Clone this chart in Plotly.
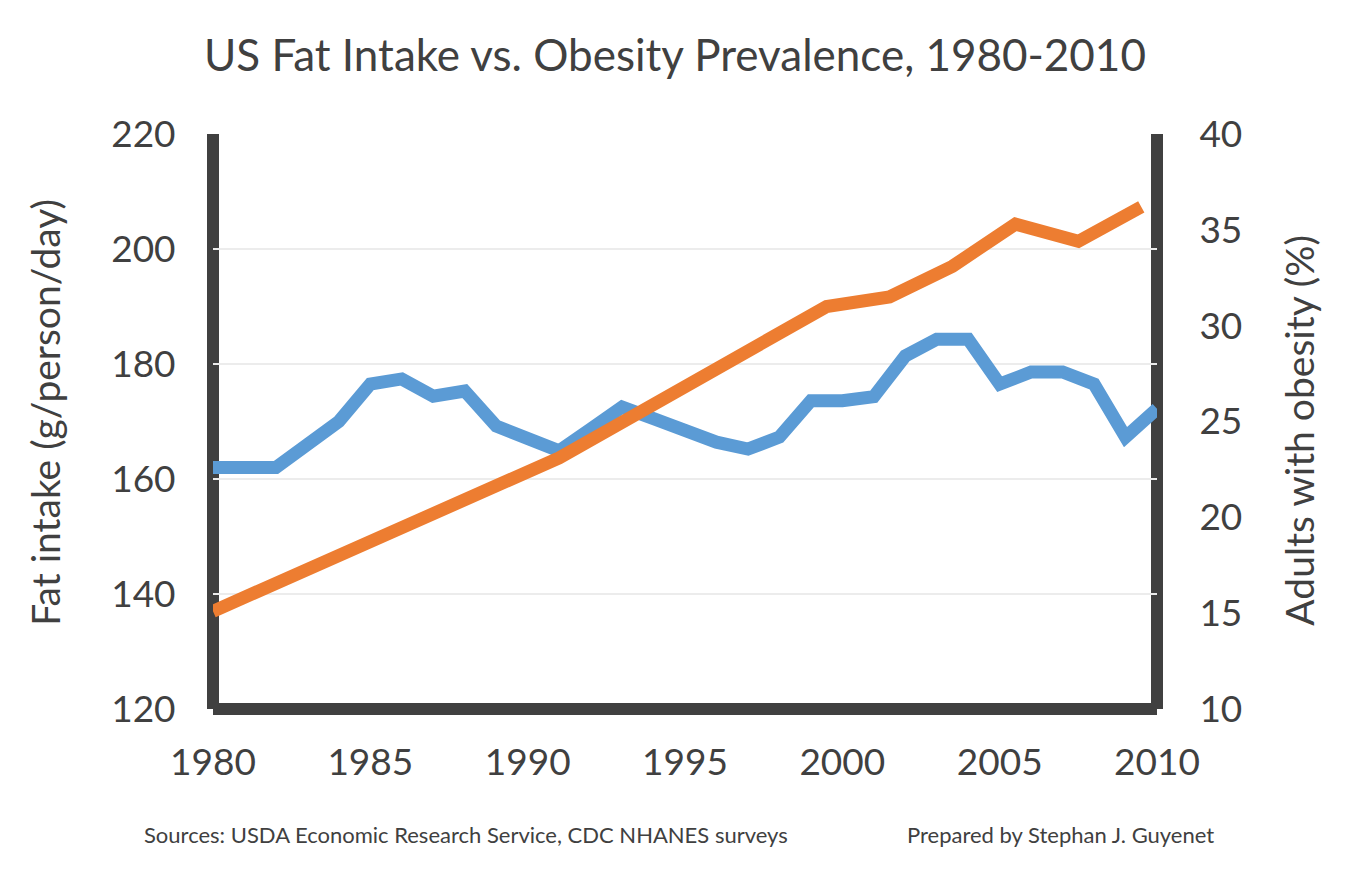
import plotly.graph_objects as go

# fat intake, g/person/day, one value per year
fat_years = list(range(1980, 2011))
fat_intake = [162, 162, 162, 166, 170, 176.5, 177.4, 174.4, 175.3, 169.2,
              167.3, 164.9, 168.7, 172.5, 170.5, 168.5, 166.4, 165.2, 167.3, 173.6,
              173.6, 174.3, 181.4, 184.3, 184.3, 176.5, 178.6, 178.6, 176.5, 167.3,
              172.2]

# adult obesity, %, survey midpoints
obesity_years = [1980, 1991, 1999.5, 2001.5, 2003.5, 2005.5, 2007.5, 2009.5]
obesity_pct = [15.1, 23.1, 31.0, 31.5, 33.1, 35.3, 34.4, 36.2]

x_ticks = [1980, 1985, 1990, 1995, 2000, 2005, 2010]
left_ticks = [120, 140, 160, 180, 200, 220]
right_ticks = [10, 15, 20, 25, 30, 35, 40]

FONT = "Lato"
TEXT = "#404040"
AXIS = "#404040"

fig = go.Figure()

fig.add_trace(go.Scatter(
    x=fat_years, y=fat_intake, mode="lines",
    line=dict(color="#5B9BD5", width=13),
    name="Fat intake", yaxis="y",
))
fig.add_trace(go.Scatter(
    x=obesity_years, y=obesity_pct, mode="lines",
    line=dict(color="#ED7D31", width=13),
    name="Obesity", yaxis="y2",
))

# page has an 8px body margin, margins below account for it
fig.update_layout(
    width=1350, height=875,
    margin=dict(l=205, r=201, t=126, b=174),
    paper_bgcolor="white", plot_bgcolor="white",
    showlegend=False,
    font=dict(family=FONT, color=TEXT),
    xaxis=dict(
        range=[1980, 2010], tickvals=x_ticks,
        showgrid=False, zeroline=False, showline=False,
        ticks="outside", ticklen=21, tickcolor="rgba(0,0,0,0)",
        tickfont=dict(size=37, color=TEXT),
    ),
    yaxis=dict(
        range=[120, 220], tickvals=left_ticks,
        showgrid=True, gridcolor="#ececec", gridwidth=2,
        zeroline=False, showline=False,
        ticks="outside", ticklen=29, tickcolor="rgba(0,0,0,0)",
        tickfont=dict(size=37, color=TEXT),
    ),
    yaxis2=dict(
        range=[10, 40], tickvals=right_ticks,
        overlaying="y", side="right",
        showgrid=False, zeroline=False, showline=False,
        ticks="outside", ticklen=34, tickcolor="rgba(0,0,0,0)",
        tickfont=dict(size=37, color=TEXT),
    ),
)

# thick axis frame: left, right and bottom, no top
for x0, y0, x1, y1 in [(0, 0, 0, 1), (1, 0, 1, 1), (0, 0, 1, 0)]:
    fig.add_shape(type="line", xref="paper", yref="paper",
                  x0=x0, y0=y0, x1=x1, y1=y1,
                  line=dict(color=AXIS, width=12), layer="between")

fig.add_annotation(text="US Fat Intake vs. Obesity Prevalence, 1980-2010",
                   xref="paper", yref="paper", x=0.489, y=1.139,
                   showarrow=False, font=dict(size=44, color=TEXT),
                   xanchor="center", yanchor="middle")
fig.add_annotation(text="Fat intake (g/person/day)", textangle=-90,
                   xref="paper", yref="paper", x=-0.178, y=0.517,
                   showarrow=False, font=dict(size=39, color=TEXT),
                   xanchor="center", yanchor="middle")
fig.add_annotation(text="Adults with obesity (%)", textangle=-90,
                   xref="paper", yref="paper", x=1.151, y=0.485,
                   showarrow=False, font=dict(size=39, color=TEXT),
                   xanchor="center", yanchor="middle")
fig.add_annotation(text="Sources: USDA Economic Research Service, CDC NHANES surveys",
                   xref="paper", yref="paper", x=-0.075, y=-0.219,
                   showarrow=False, font=dict(size=22, color=TEXT),
                   xanchor="left", yanchor="middle")
fig.add_annotation(text="Prepared by Stephan J. Guyenet",
                   xref="paper", yref="paper", x=0.733, y=-0.219,
                   showarrow=False, font=dict(size=22, color=TEXT),
                   xanchor="left", yanchor="middle")

fig.write_html("out.html")
